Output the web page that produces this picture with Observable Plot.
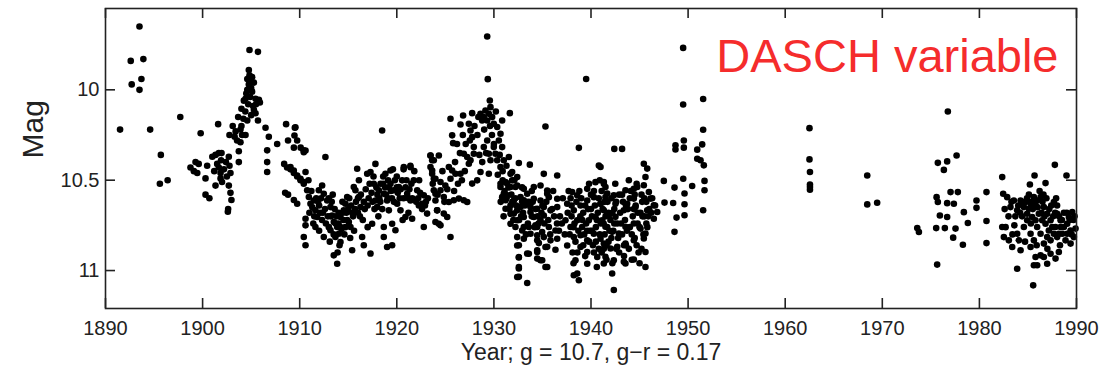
<!DOCTYPE html>
<html>
<head>
<meta charset="utf-8">
<script src="https://cdn.jsdelivr.net/npm/d3@7"></script>
<script src="https://cdn.jsdelivr.net/npm/@observablehq/plot@0.6"></script>
<style>
  html, body { margin: 0; padding: 0; background: #fff; }
  #chart svg { display: block; }
</style>
</head>
<body>
<div id="chart"></div>
<script>
const xTicks = [1890, 1900, 1910, 1920, 1930, 1940, 1950, 1960, 1970, 1980, 1990];
const yTicks = [10, 10.5, 11];
const title = "DASCH variable";
const xLabel = "Year; g = 10.7, g\u2212r = 0.17";
const yLabel = "Mag";

// [year, magnitude]
const obs1890s = [
  [1891.5,10.22],[1892.6,9.84],[1892.7,9.97],[1893.5,9.65],[1893.7,9.94],[1893.5,10.0],[1893.9,9.83],
  [1894.6,10.22],[1895.7,10.36],[1895.6,10.52],[1896.4,10.50],[1897.7,10.15],[1899.8,10.24]
];
const obs1900s = [
  [1898.75,10.43],[1899.27,10.40],[1899.6,10.41],[1899.1,10.45],[1899.45,10.46],[1900.3,10.49],[1900.47,10.42],
  [1900.3,10.58],[1900.7,10.60],[1901.0,10.37],[1901.33,10.36],[1901.67,10.35],[1901.95,10.35],[1901.5,10.41],
  [1901.67,10.43],[1901.85,10.46],[1901.85,10.49],[1901.33,10.53],[1902.0,10.51],[1901.6,10.19],[1902.7,10.37],
  [1902.77,10.42],[1902.87,10.46],[1902.7,10.53],[1902.87,10.57],[1902.97,10.61],[1902.63,10.66],[1902.6,10.675],
  [1903.1,10.20],[1902.77,10.25],[1903.4,10.23],[1903.55,10.28],[1903.73,10.34],[1903.73,10.40],[1903.9,10.29],
  [1904.07,10.25],[1904.42,10.25],[1903.66,10.15],[1904.0,10.105],[1904.25,10.06],[1904.42,10.05],[1904.6,10.0],
  [1904.76,9.97],[1904.83,9.92],[1904.76,9.89],[1905.1,9.93],[1905.28,9.96],[1905.1,10.01],[1905.45,10.05],
  [1905.8,10.055],[1904.6,10.17],[1905.28,10.11],[1905.45,10.13],[1905.7,10.17],[1906.48,10.21],[1906.82,10.26],
  [1906.65,10.335],[1906.65,10.40],[1906.65,10.455],[1907.68,10.30],[1904.83,9.78],[1905.7,9.79],[1904.5,10.02],
  [1904.9,10.04],[1905.0,9.99],[1904.7,10.08],[1905.2,10.09],[1904.4,10.12],[1905.0,10.14],[1904.2,10.16],
  [1904.0,10.2],[1905.5,10.08],[1905.9,10.07],[1904.9,9.95],[1904.6,9.94],[1901.2,10.45],[1902.2,10.44],
  [1902.4,10.4],[1901.9,10.39],[1902.5,10.48],[1903.3,10.26],[1903.9,10.22]
];
const obs1910s = [
  [1908.6,10.19],[1909.5,10.21],[1908.8,10.28],[1909.4,10.32],[1910.1,10.32],[1910.4,10.335],[1908.4,10.41],
  [1908.7,10.43],[1909.05,10.44],[1909.4,10.46],[1909.74,10.48],[1910.08,10.50],[1910.42,10.51],[1908.5,10.57],
  [1908.8,10.58],[1909.4,10.61],[1909.74,10.63],
  [1909.56,10.207],[1909.46,10.253],[1909.74,10.28],[1910.6,10.336],[1910.42,10.345],[1909.05,10.428],[1909.39,10.446],
  [1909.74,10.474],[1910.08,10.492],[1910.6,10.455],[1910.42,10.52],[1910.77,10.556],[1910.94,10.593],[1911.11,10.63],
  [1911.45,10.612],[1911.62,10.667],[1911.8,10.704],[1911.62,10.759],[1910.6,10.713],[1910.6,10.75],[1910.42,10.814],
  [1910.6,10.86],[1911.97,10.556],[1912.31,10.529],[1912.48,10.575],[1912.65,10.372],[1912.83,10.612],[1913.17,10.649],
  [1913.34,10.695],[1913.51,10.731],[1913.86,10.759],[1914.03,10.796],[1914.2,10.842],[1913.51,10.916],[1913.86,10.962],
  [1913.68,10.814],[1913.17,10.777],[1912.48,10.814],[1914.2,10.704],[1914.54,10.667],[1914.71,10.63],[1914.89,10.593],
  [1915.06,10.731],[1915.23,10.759],[1915.4,10.888],[1915.57,10.538],[1915.74,10.556],[1915.92,10.437],[1916.09,10.593],
  [1916.26,10.649],[1916.43,10.814],[1916.6,10.86],[1916.95,10.464],[1917.29,10.455],[1917.29,10.906],[1917.46,10.741],
  [1917.63,10.52],[1917.8,10.41],[1917.8,10.612],[1917.98,10.649],[1918.15,10.556],[1918.32,10.52],[1918.49,10.225],
  [1918.66,10.575],[1918.66,10.759],[1918.66,10.814],[1918.83,10.464],[1919.0,10.612],[1919.18,10.667],[1919.35,10.446],
  [1919.35,10.52],[1919.52,10.741],[1919.52,10.86],[1919.69,10.556],[1919.86,10.777],[1920.04,10.63],[1920.21,10.538],
  [1920.38,10.667],[1920.55,10.501],[1920.72,10.428],[1920.89,10.704],[1921.07,10.575],[1921.41,10.428],[1921.41,10.612],
  [1921.58,10.713],[1921.75,10.501],[1922.1,10.556],[1922.27,10.64],[1922.61,10.63],[1922.78,10.584],[1922.78,10.759],
  [1923.12,10.685],[1923.47,10.363],[1923.64,10.39],[1923.64,10.446],[1923.81,10.492],[1923.81,10.556],[1923.98,10.612],
  [1924.15,10.667],[1924.33,10.741],
  [1911.3,10.65],[1911.9,10.62],[1912.1,10.68],[1912.3,10.72],[1912.6,10.66],[1912.9,10.7],[1913.0,10.6],[1913.3,10.62],
  [1913.6,10.66],[1913.8,10.7],[1914.0,10.74],[1914.3,10.77],[1914.5,10.72],[1914.8,10.68],[1915.0,10.66],[1915.3,10.64],
  [1915.5,10.7],[1915.8,10.62],[1916.0,10.68],[1916.3,10.58],[1916.6,10.62],[1916.8,10.55],[1917.1,10.6],[1917.4,10.57],
  [1917.7,10.66],[1918.0,10.58],[1918.3,10.62],[1918.6,10.52],[1918.9,10.58],[1919.2,10.54],[1919.5,10.6],[1919.8,10.5],
  [1920.1,10.57],[1920.4,10.55],[1920.7,10.6],[1921.0,10.5],[1921.3,10.55],[1921.6,10.6],[1922.0,10.62],[1922.4,10.57],
  [1922.9,10.64],[1923.2,10.6],[1911.5,10.7],[1912.0,10.78],[1913.1,10.84],[1914.6,10.8],[1915.6,10.78],[1916.5,10.72],
  [1917.0,10.76],[1918.1,10.7],[1919.1,10.5],[1920.0,10.48],[1921.8,10.45],[1922.3,10.5],[1921.2,10.68],[1920.6,10.72],
  [1913.4,10.58],[1914.4,10.62],[1916.1,10.5],[1917.6,10.48],[1919.6,10.44],[1910.9,10.5],[1911.2,10.56],[1912.2,10.6],
  [1913.9,10.9],[1914.1,10.86],[1915.2,10.82],[1919.0,10.87],[1918.6,10.48],[1920.7,10.44],[1921.4,10.42],
  [1911.0,10.68],[1911.4,10.74],[1911.7,10.6],[1912.0,10.64],[1912.4,10.68],[1912.7,10.74],[1913.0,10.76],[1913.2,10.7],
  [1913.5,10.8],[1913.7,10.74],[1914.0,10.68],[1914.2,10.76],[1914.4,10.68],[1914.7,10.76],[1914.9,10.72],[1915.1,10.6],
  [1915.4,10.68],[1915.7,10.66],[1916.0,10.6],[1916.2,10.7],[1916.7,10.66],[1917.0,10.64],[1917.2,10.52],[1917.5,10.62],
  [1917.9,10.54],[1918.2,10.6],[1918.5,10.66],[1918.8,10.54],[1919.1,10.6],[1919.4,10.56],[1919.7,10.62],[1920.0,10.54],
  [1920.3,10.6],[1920.9,10.54],[1921.2,10.6],[1921.5,10.52],[1922.2,10.6],[1922.6,10.66],[1923.0,10.62]
];
const obs1920s = [
  [1929.31,9.705],[1929.37,9.941],[1929.58,10.059],[1929.65,10.096],[1929.48,10.133],[1929.13,10.114],[1928.96,10.151],
  [1928.62,10.133],[1928.79,10.17],[1929.31,10.17],[1929.82,10.151],[1929.99,10.188],[1930.34,10.206],[1930.68,10.243],
  [1930.85,10.17],[1931.64,10.129],[1927.76,10.129],[1926.83,10.142],[1925.53,10.16],[1926.56,10.192],[1925.7,10.252],
  [1925.8,10.295],[1927.42,10.188],[1927.59,10.225],[1927.76,10.262],[1927.52,10.28],[1927.93,10.317],[1926.9,10.354],
  [1927.25,10.372],[1927.59,10.39],[1927.93,10.354],[1927.42,10.409],[1928.96,10.317],[1929.31,10.28],[1929.48,10.354],
  [1929.65,10.39],[1929.99,10.317],[1930.16,10.354],[1930.34,10.39],[1930.68,10.427],[1930.51,10.28],[1930.85,10.317],
  [1931.02,10.39],[1928.62,10.455],[1929.48,10.464],[1928.28,10.501],[1927.76,10.519],[1931.54,10.372],[1932.57,10.405],
  [1933.7,10.414],[1935.31,10.203],
  [1923.47,10.363],[1923.81,10.39],[1924.33,10.363],[1923.47,10.427],[1923.64,10.464],[1923.98,10.492],[1924.5,10.51],
  [1925.36,10.427],[1925.7,10.446],[1926.04,10.464],[1926.56,10.464],[1925.53,10.492],[1925.0,10.529],[1924.5,10.556],
  [1923.98,10.575],[1924.84,10.593],[1925.36,10.621],[1925.87,10.611],[1926.39,10.602],[1926.9,10.611],[1927.25,10.621],
  [1924.16,10.667],[1924.84,10.685],[1925.19,10.704],[1923.98,10.731],[1924.5,10.75],[1925.53,10.814],
  [1930.68,10.538],[1931.02,10.575],[1931.37,10.519],[1931.71,10.464],[1931.88,10.501],[1932.22,10.538],[1932.4,10.483],
  [1931.2,10.611],[1931.71,10.639],[1932.05,10.685],[1932.4,10.722],[1932.74,10.648],[1933.08,10.611],[1933.43,10.575],
  [1933.77,10.648],[1934.11,10.704],[1934.46,10.759],[1934.8,10.722],[1935.14,10.648],[1935.49,10.575],[1933.08,10.759],
  [1933.77,10.796],[1934.46,10.832],[1932.57,10.86],[1933.43,10.906],[1934.46,10.888],[1932.57,10.928],[1932.57,10.989],
  [1935.49,10.869],[1934.8,10.943],[1935.49,10.98],[1932.57,11.035],
  [1926.2,10.3],[1926.5,10.35],[1926.8,10.25],[1927.1,10.3],[1928.0,10.2],[1928.3,10.25],[1928.5,10.36],[1928.8,10.4],
  [1929.0,10.22],[1929.2,10.35],[1929.8,10.25],[1930.0,10.3],[1930.2,10.12],[1929.6,10.2],[1928.4,10.15],[1930.6,10.36],
  [1930.9,10.45],[1931.3,10.42],[1930.4,10.47],[1926.0,10.4],[1926.3,10.52],[1925.2,10.55],[1924.7,10.45],[1924.2,10.58],
  [1923.7,10.52],[1924.9,10.62],[1925.9,10.56],[1926.7,10.5],[1927.0,10.45]
];
const obs1930s = [
  [1938.75,10.321],[1940.81,10.419],[1931.88,10.455],[1935.14,10.465],[1936.52,10.474],[1939.5,9.94],
  [1930.68,10.52],[1931.2,10.511],[1931.71,10.538],[1932.4,10.529],[1933.08,10.548],[1934.11,10.538],[1934.8,10.529],
  [1935.49,10.557],[1930.85,10.594],[1931.37,10.584],[1932.05,10.612],[1932.74,10.594],[1933.43,10.621],[1934.11,10.603],
  [1934.8,10.612],[1935.66,10.594],[1936.52,10.603],[1938.06,10.566],[1938.58,10.584],[1939.61,10.548],[1940.46,10.511],
  [1941.32,10.52],[1931.2,10.658],[1931.71,10.686],[1932.4,10.667],[1933.08,10.704],[1933.77,10.676],[1934.46,10.658],
  [1935.14,10.695],[1935.83,10.667],[1936.52,10.649],[1937.55,10.63],[1938.23,10.667],[1938.92,10.64],[1939.61,10.612],
  [1940.29,10.594],[1940.98,10.63],[1941.49,10.594],[1931.71,10.741],[1932.22,10.759],[1932.91,10.778],[1933.6,10.759],
  [1934.28,10.75],[1934.97,10.787],[1935.66,10.759],[1936.34,10.778],[1937.37,10.722],[1937.89,10.759],[1938.58,10.722],
  [1939.09,10.759],[1939.78,10.722],[1940.46,10.704],[1941.15,10.722],[1941.67,10.686],[1932.4,10.815],[1933.08,10.824],
  [1934.46,10.805],[1935.14,10.815],[1935.83,10.833],[1936.52,10.824],[1937.55,10.861],[1938.23,10.815],[1938.92,10.805],
  [1939.61,10.833],[1940.29,10.796],[1940.98,10.824],[1941.67,10.759],[1932.4,10.861],[1934.63,10.848],[1935.31,10.87],
  [1936.34,10.885],[1938.92,10.87],[1939.61,10.897],[1940.64,10.925],[1941.32,10.879],[1932.57,10.925],[1933.6,10.907],
  [1934.46,10.897],[1934.97,10.943],[1935.31,10.98],[1934.46,10.934],[1932.57,10.98],[1932.4,11.036],[1933.43,11.069],
  [1938.23,11.026],[1938.75,11.054],[1938.58,11.017],[1939.61,10.962],[1938.4,10.943],
  [1937.6,10.68],[1937.8,10.8],[1938.0,10.7],[1938.1,10.9],[1938.3,10.74],[1938.5,10.62],[1938.7,10.78],[1938.9,10.7],
  [1939.0,10.6],[1939.2,10.68],[1939.3,10.8],[1939.5,10.74],[1939.7,10.66],[1939.9,10.78],[1940.0,10.58],[1940.1,10.7],
  [1940.2,10.86],[1940.4,10.64],[1940.5,10.76],[1940.7,10.68],[1940.8,10.88],[1941.0,10.74],[1941.1,10.56],[1941.2,10.66],
  [1941.4,10.8],[1941.5,10.7],[1941.7,10.62],[1941.8,10.84],[1942.0,10.72],[1942.1,10.6],[1942.3,10.78],[1942.4,10.66],
  [1942.6,10.88],[1942.7,10.74],[1942.9,10.58],[1943.0,10.68],[1943.2,10.8],[1943.3,10.62],[1943.5,10.72],[1943.6,10.86],
  [1943.8,10.66],[1944.0,10.76],[1944.1,10.56],[1944.3,10.7],[1944.5,10.82],[1944.6,10.64],[1944.8,10.74],[1944.9,10.9],
  [1945.1,10.68],[1945.2,10.58],[1945.4,10.8],[1945.5,10.7],[1945.7,10.62],[1945.8,10.76],[1946.0,10.66],[1946.3,10.6],
  [1946.6,10.64],[1939.4,10.92],[1940.6,10.98],[1941.6,10.94],[1942.2,10.96],[1943.4,10.92],[1944.2,10.94],[1945.0,10.96],
  [1938.2,10.96],[1939.8,10.52],[1940.9,10.5],[1942.5,10.52],[1943.9,10.5],[1944.7,10.52],[1937.9,10.6],[1936.8,10.7],
  [1937.1,10.6],[1936.5,10.74],[1936.0,10.66],[1935.6,10.72],[1935.0,10.64],[1934.5,10.7],[1934.0,10.62],[1933.5,10.74],
  [1933.2,10.64],[1932.8,10.7],[1932.2,10.6],[1931.9,10.62],[1931.5,10.54],[1931.1,10.56],[1930.9,10.5],
  [1937.7,10.56],[1938.0,10.64],[1938.2,10.76],[1938.4,10.84],[1938.6,10.9],[1938.8,10.56],[1939.1,10.72],[1939.2,10.86],
  [1939.4,10.64],[1939.6,10.78],[1939.8,10.84],[1940.0,10.66],[1940.1,10.78],[1940.3,10.9],[1940.3,10.56],[1940.5,10.84],
  [1940.6,10.72],[1940.8,10.6],[1940.9,10.8],[1941.1,10.9],[1941.3,10.74],[1941.4,10.62],[1941.6,10.86],[1941.8,10.68],
  [1941.9,10.78],[1942.1,10.82],[1942.2,10.68],[1942.4,10.74],[1942.6,10.62],[1942.8,10.82],[1942.9,10.9],[1943.1,10.74],
  [1943.2,10.58],[1943.4,10.86],[1943.6,10.64],[1943.7,10.78],[1943.9,10.88],[1944.0,10.6],[1944.2,10.8],[1944.4,10.66],
  [1944.5,10.58],[1944.7,10.86],[1944.8,10.68],[1945.0,10.76],[1945.2,10.88],[1945.3,10.7],[1945.5,10.6],[1945.7,10.74],
  [1945.9,10.7],[1946.2,10.68],
  [1930.7,10.62],[1931.0,10.7],[1931.3,10.6],[1931.6,10.66],[1931.8,10.58],[1932.0,10.72],[1932.1,10.5],[1932.3,10.64],
  [1932.6,10.72],[1932.9,10.62],[1933.0,10.68],[1933.3,10.8],[1933.6,10.62],[1933.9,10.7],[1934.2,10.76],[1934.3,10.66],
  [1934.6,10.74],[1934.9,10.68],[1935.2,10.74],[1935.4,10.62],[1935.8,10.8],[1936.2,10.7],[1936.7,10.78],[1937.0,10.74],
  [1937.3,10.8],[1936.1,10.56],[1933.9,10.56],[1932.9,10.54]
];
const obs1940s = [
  [1940.98,10.427],[1941.32,10.51],[1941.49,10.538],[1941.67,10.574],[1942.35,10.584],[1942.52,10.63],[1943.55,10.556],
  [1944.41,10.547],[1944.76,10.538],[1945.44,10.409],[1945.79,10.436],[1945.61,10.482],[1945.44,10.528],[1945.96,10.565],
  [1946.13,10.602],[1946.47,10.639],[1946.82,10.676],[1946.47,10.713],[1940.98,10.63],[1941.32,10.666],[1941.84,10.694],
  [1942.52,10.703],[1943.38,10.666],[1943.73,10.63],[1944.41,10.602],[1944.58,10.648],[1945.27,10.62],[1945.79,10.666],
  [1941.49,10.758],[1942.18,10.786],[1942.87,10.795],[1943.55,10.758],[1944.41,10.74],[1945.1,10.768],[1945.61,10.795],
  [1941.32,10.851],[1942.01,10.878],[1942.7,10.869],[1943.55,10.851],[1944.41,10.832],[1945.44,10.823],[1941.49,10.924],
  [1942.35,10.943],[1943.38,10.952],[1944.41,10.939],[1945.61,10.897],[1941.32,10.961],[1942.18,11.016],[1942.35,11.108],
  [1945.61,10.98],[1943.55,10.961],[1942.4,10.327],[1943.2,10.327],
  [1949.49,9.768],[1949.49,10.081],[1951.55,10.051],[1951.55,10.221],[1948.7,10.307],[1949.56,10.28],[1949.56,10.32],
  [1950.94,10.331],[1951.45,10.302],[1950.94,10.381],[1951.28,10.39],[1951.62,10.418],[1947.5,10.504],[1948.6,10.541],
  [1949.5,10.492],[1950.42,10.532],[1951.69,10.504],[1951.69,10.556],[1949.63,10.574],[1947.57,10.624],[1948.46,10.626],
  [1949.63,10.633],[1948.81,10.707],[1949.63,10.694],[1948.6,10.786],[1951.55,10.666],[1948.7,10.33]
];
const obsLate = [
  [1962.5,10.212],[1962.5,10.385],[1962.55,10.455],[1962.55,10.524],[1962.55,10.538],[1962.55,10.553],
  [1968.45,10.474],[1968.45,10.634],[1969.47,10.625],[1973.6,10.765],[1973.77,10.787],
  [1976.75,10.12],[1975.72,10.404],[1976.68,10.396],[1976.34,10.443],[1977.65,10.363],[1975.59,10.594],[1975.72,10.621],
  [1976.68,10.627],[1977.03,10.566],[1977.78,10.566],[1977.37,10.63],[1975.93,10.695],[1976.68,10.704],[1978.4,10.677],
  [1975.55,10.765],[1976.44,10.765],[1977.54,10.768],[1977.3,10.818],[1978.3,10.857],[1978.81,10.737],[1975.65,10.967],
  [1979.7,10.612],[1979.7,10.653],[1980.73,10.566],[1980.73,10.726],[1980.73,10.848],
  [1982.35,10.483],[1982.45,10.575],[1982.86,10.594],[1983.2,10.649],[1983.55,10.612],[1983.89,10.667],[1984.24,10.612],
  [1984.58,10.649],[1984.92,10.686],[1985.27,10.63],[1985.61,10.594],[1985.95,10.612],[1986.3,10.594],[1986.64,10.649],
  [1986.98,10.686],[1987.33,10.722],[1987.67,10.621],[1988.01,10.686],[1988.36,10.722],[1988.7,10.759],[1989.04,10.741],
  [1989.39,10.778],[1989.56,10.676],[1989.9,10.768],[1982.35,10.759],[1982.52,10.815],[1983.03,10.833],[1983.38,10.87],
  [1983.89,10.796],[1984.06,10.833],[1984.24,10.888],[1984.58,10.759],[1984.92,10.722],[1985.27,10.796],[1985.61,10.833],
  [1985.95,10.759],[1986.3,10.796],[1986.64,10.851],[1986.98,10.815],[1987.33,10.833],[1987.67,10.796],[1988.01,10.815],
  [1988.36,10.759],[1988.87,10.833],[1989.39,10.851],[1989.73,10.815],[1985.27,10.87],[1985.78,10.925],[1985.95,10.971],
  [1986.3,10.916],[1986.64,10.925],[1986.98,10.962],[1987.33,10.907],[1987.84,10.934],[1988.18,10.897],[1985.61,10.971],
  [1983.89,10.99],[1985.54,11.082],[1985.2,10.524],[1985.68,10.474],[1986.81,10.516],[1987.77,10.415],[1988.97,10.474],
  [1984.41,10.621],[1985.1,10.658],[1985.44,10.704],[1985.78,10.722],[1986.12,10.686],[1986.47,10.722],[1986.81,10.741],
  [1987.15,10.778],[1987.5,10.759],[1987.84,10.759],[1988.18,10.796],[1988.53,10.796],[1989.04,10.796],[1989.21,10.704],
  [1983.0,10.7],[1983.6,10.75],[1984.0,10.64],[1984.4,10.7],[1984.8,10.62],[1985.1,10.58],[1985.5,10.66],[1986.0,10.65],
  [1986.5,10.62],[1986.9,10.6],[1987.2,10.66],[1987.6,10.7],[1988.0,10.64],[1988.5,10.72],[1989.0,10.68],[1989.7,10.72],
  [1982.7,10.76],[1983.4,10.8],[1984.7,10.84],[1985.9,10.86],[1987.0,10.88],[1988.3,10.86],[1989.5,10.8],[1986.2,10.56],
  [1986.6,10.58],[1987.9,10.6],[1982.6,10.66],[1985.3,10.74],[1983.7,10.7],
  [1983.3,10.62],[1984.2,10.68],[1984.9,10.6],[1985.4,10.62],[1985.8,10.64],[1986.4,10.68],[1986.7,10.7],[1987.4,10.64],
  [1987.8,10.68],[1988.2,10.7],[1988.7,10.68],[1989.3,10.72],[1989.8,10.7]
];

(function () {
  const points = [...obs1890s, ...obs1900s, ...obs1910s, ...obs1920s, ...obs1930s, ...obs1940s, ...obsLate];
  const font = "'Liberation Sans', Arial, Helvetica, sans-serif";
  const ink = "#222";
  const W = 1105, H = 375, mL = 105, mR = 29, mT = 8, mB = 67;
  const xDomain = [1890, 1990];
  const yDomain = [9.55, 11.21];
  // tick length of 10 px, expressed in each scale's units
  const tickX = 10 * (xDomain[1] - xDomain[0]) / (W - mL - mR);
  const tickY = 10 * (yDomain[1] - yDomain[0]) / (H - mT - mB);

  const chart = Plot.plot({
    width: W,
    height: H,
    marginLeft: mL,
    marginRight: mR,
    marginTop: mT,
    marginBottom: mB,
    style: { fontFamily: font, background: "#fff", color: ink },
    x: { domain: xDomain },
    y: { domain: yDomain, reverse: true },
    marks: [
      Plot.dot(points, { x: d => d[0], y: d => d[1], r: 3.3, fill: "#000" }),
      // inward ticks on all four sides
      Plot.ruleX(xTicks, { x: d => d, y1: () => yDomain[1], y2: () => yDomain[1] - tickY, stroke: ink, strokeWidth: 1.6 }),
      Plot.ruleX(xTicks, { x: d => d, y1: () => yDomain[0], y2: () => yDomain[0] + tickY, stroke: ink, strokeWidth: 1.6 }),
      Plot.ruleY(yTicks, { y: d => d, x1: () => xDomain[0], x2: () => xDomain[0] + tickX, stroke: ink, strokeWidth: 1.6 }),
      Plot.ruleY(yTicks, { y: d => d, x1: () => xDomain[1], x2: () => xDomain[1] - tickX, stroke: ink, strokeWidth: 1.6 }),
      Plot.axisX({ anchor: "bottom", ticks: xTicks, tickSize: 0, tickPadding: 12, fontSize: 20, tickFormat: d => String(d), label: null, fill: ink }),
      Plot.axisY({ anchor: "left", ticks: yTicks, tickSize: 0, tickPadding: 6, fontSize: 20, tickFormat: d => String(d), label: null, fill: ink }),
      Plot.frame({ stroke: ink, strokeWidth: 1.6 }),
      Plot.text([title], { frameAnchor: "top-right", dx: -18, dy: 30, text: d => d, textAnchor: "end", lineAnchor: "top", fontSize: 47, fill: "#f52c2c" }),
      Plot.text([xLabel], { frameAnchor: "bottom", dy: 35, text: d => d, lineAnchor: "top", fontSize: 23, fill: ink }),
      Plot.text([yLabel], { frameAnchor: "left", dx: -72, text: d => d, rotate: -90, lineAnchor: "middle", fontSize: 30, fill: ink })
    ]
  });
  document.getElementById("chart").appendChild(chart);
})();
</script>
</body>
</html>
